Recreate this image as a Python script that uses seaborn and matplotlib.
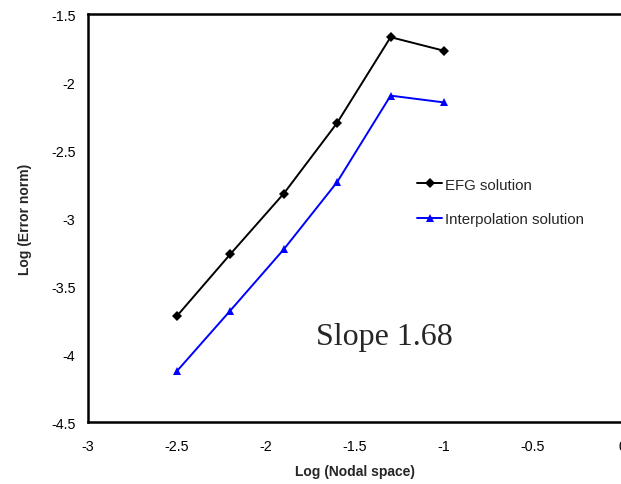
import matplotlib
matplotlib.use("Agg")
import matplotlib.pyplot as plt
import seaborn as sns
import pandas as pd

log_nodal_space = [-2.5, -2.2, -1.9, -1.6, -1.3, -1.0]
efg_error = [-3.72, -3.265, -2.82, -2.30, -1.67, -1.77]
interp_error = [-4.125, -3.68, -3.23, -2.735, -2.10, -2.15]
series_names = ["EFG solution", "Interpolation solution"]
x_ticks = [-3, -2.5, -2, -1.5, -1, -0.5, 0]
y_ticks = [-4.5, -4, -3.5, -3, -2.5, -2, -1.5]

sns.set_style("white")
plt.rcParams['font.family'] = ['Liberation Sans', 'DejaVu Sans']

df = pd.DataFrame({
    "x": log_nodal_space * 2,
    "y": efg_error + interp_error,
    "series": [series_names[0]] * 6 + [series_names[1]] * 6,
})

fig = plt.figure(figsize=(6.21, 4.85), dpi=100)
ax = fig.add_axes([0.1417, 0.1278, 0.8599, 0.8412])

sns.lineplot(data=df, x="x", y="y", hue="series", style="series",
             palette={series_names[0]: "black", series_names[1]: "#0000ff"},
             markers={series_names[0]: "D", series_names[1]: "^"},
             dashes=False, markersize=5.5, linewidth=1.4,
             markeredgewidth=0, ax=ax, sort=False)

ax.set_xlim(-3, 0)
ax.set_ylim(-4.5, -1.5)
ax.set_xticks(x_ticks)
ax.set_yticks(y_ticks)
ax.set_xticklabels([f"{v:g}" for v in x_ticks])
ax.set_yticklabels([f"{v:g}" for v in y_ticks])
ax.tick_params(direction="in", length=4, width=1, labelsize=10.3, colors="black")
ax.tick_params(axis="x", pad=12)
ax.tick_params(axis="y", pad=9)
for s in ["left", "bottom", "top"]:
    ax.spines[s].set_visible(True)
    ax.spines[s].set_color("black")
    ax.spines[s].set_linewidth(1.8)
ax.spines["right"].set_visible(False)

ax.set_xlabel("Log (Nodal space)", fontsize=10, fontweight="bold", labelpad=8)
ax.set_ylabel("Log (Error norm)", fontsize=10, fontweight="bold", labelpad=14)

ax.text(-1.719, -3.926, "Slope 1.68", fontsize=23, family="Liberation Serif",
        va="baseline", ha="left")

leg = ax.legend(loc="center left", bbox_to_anchor=(0.616, 0.54), frameon=False,
                fontsize=10.8, handlelength=1.7, handletextpad=0.2,
                labelspacing=1.35, borderaxespad=0, borderpad=0)

fig.savefig("out.png", dpi=100)
